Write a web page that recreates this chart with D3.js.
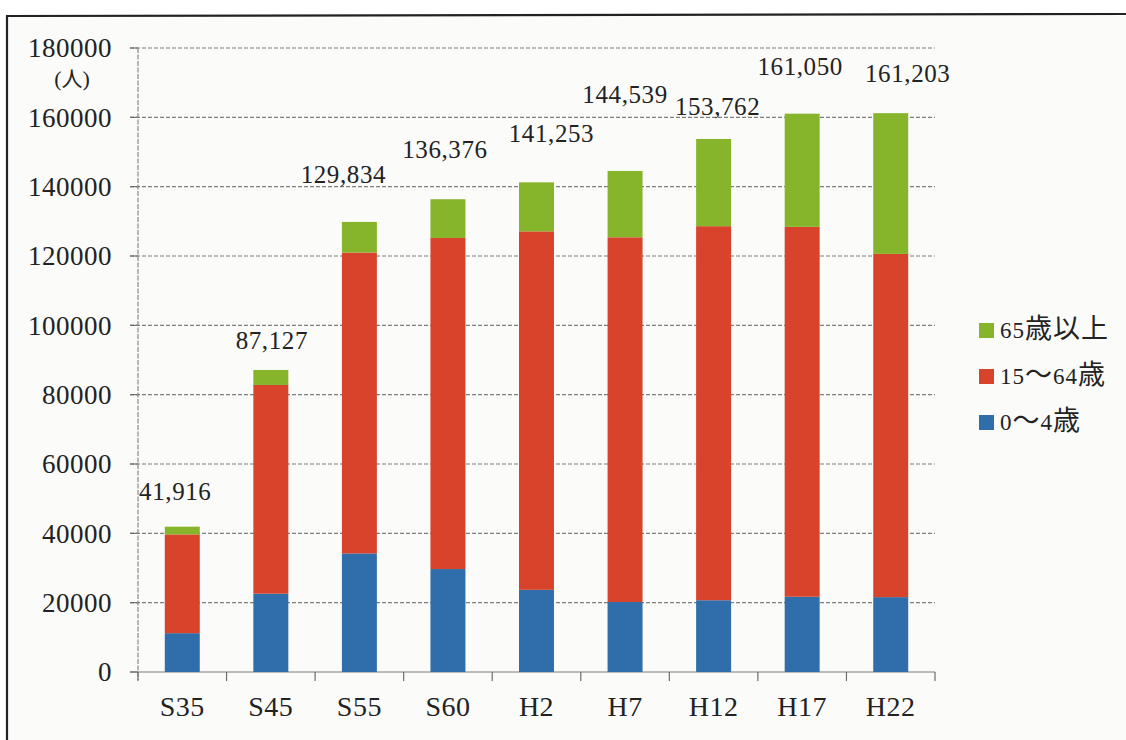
<!DOCTYPE html>
<html>
<head>
<meta charset="utf-8">
<script src="https://cdn.jsdelivr.net/npm/d3@7"></script>
<style>
  html, body { margin: 0; padding: 0; background: #ffffff; }
  svg { display: block; }
  svg text { font-family: "Liberation Serif", "DejaVu Serif", "Noto Sans CJK JP", serif; }
</style>
</head>
<body>
<svg id="chart" width="1126" height="740"></svg>
<script>
// ---- data ----
const categories = ["S35", "S45", "S55", "S60", "H2", "H7", "H12", "H17", "H22"];
const age0to4   = [11200, 22600, 34200, 29700, 23700, 20200, 20700, 21700, 21600];
const age15to64 = [28500, 60200, 86800, 95500, 103400, 105200, 107900, 106700, 99000];
const age65plus = [2216, 4327, 8834, 11176, 14153, 19139, 25162, 32650, 40603];
const totals    = [41916, 87127, 129834, 136376, 141253, 144539, 153762, 161050, 161203];
const seriesNames = ["0〜4歳", "15〜64歳", "65歳以上"];
const yTicks = [0, 20000, 40000, 60000, 80000, 100000, 120000, 140000, 160000, 180000];
const yUnit = ["(", "人", ")"];

// ---- layout (not data) ----
const colors = ["#2f6eaa", "#d8432c", "#86b52b"];
const labelDx = [-7, 1, -16, -3, 15, 0, 4, -2, 17];
const labelDy = [-35, -29, -47, -50, -49, -76, -32, -47, -40];

const svg = d3.select("#chart");

// background paper & border
svg.append("rect").attr("x", 0).attr("y", 0).attr("width", 1126).attr("height", 740).attr("fill", "#ffffff");
svg.append("rect").attr("x", 7).attr("y", 16).attr("width", 1130).attr("height", 740).attr("fill", "#fbfbfa");
svg.append("path").attr("d", "M7,742 L7,16 L1128,14").attr("fill", "none")
  .attr("stroke", "#222").attr("stroke-width", 2.2);

const x = d3.scaleBand().domain(categories).range([138, 935]).paddingInner(0.605).paddingOuter(0.3025);
const y = d3.scaleLinear().domain([0, 180000]).range([672, 48]);

// gridlines
svg.append("g").selectAll("line").data(yTicks).join("line")
  .attr("x1", 130).attr("x2", 935)
  .attr("y1", d => y(d)).attr("y2", d => y(d))
  .attr("stroke", "#7d7d7d").attr("stroke-width", 1.1)
  .attr("stroke-dasharray", d => d === 0 ? null : "4,2");
svg.append("g").selectAll("line").data(yTicks).join("line")
  .attr("x1", 130).attr("x2", 138)
  .attr("y1", d => y(d)).attr("y2", d => y(d))
  .attr("stroke", "#6d6d6d").attr("stroke-width", 1.2);

// y axis line
svg.append("line").attr("x1", 138).attr("x2", 138).attr("y1", y(180000)).attr("y2", 680)
  .attr("stroke", "#8a8a8a").attr("stroke-width", 1.2).attr("stroke-dasharray", "5,1.5");

// y labels
svg.append("g").selectAll("text").data(yTicks).join("text")
  .attr("x", 112).attr("y", d => y(d)).attr("dy", "0.34em")
  .attr("text-anchor", "end")
  .attr("font-size", 27).attr("letter-spacing", 0.5)
  .attr("fill", "#222")
  .text(d => d3.format("d")(d));

// unit label
const unit = svg.append("text").attr("x", 72).attr("y", 86).attr("text-anchor", "middle").attr("fill", "#222");
unit.selectAll("tspan").data(yUnit).join("tspan")
  .attr("font-size", (d, i) => i === 1 ? 21 : 22).text(d => d);

// x axis ticks at band boundaries
const step = x.step();
const boundaries = d3.range(categories.length + 1).map(i => 138 + i * step);
svg.append("g").selectAll("line").data(boundaries).join("line")
  .attr("x1", d => d).attr("x2", d => d)
  .attr("y1", y(0)).attr("y2", y(0) + 9)
  .attr("stroke", "#6d6d6d").attr("stroke-width", 1.2);

// x labels
svg.append("g").selectAll("text").data(categories).join("text")
  .attr("x", d => x(d) + x.bandwidth() / 2).attr("y", 716)
  .attr("text-anchor", "middle")
  .attr("font-size", 28).attr("letter-spacing", 0.5)
  .attr("fill", "#222")
  .text(d => d);

// stacked bars
const rows = categories.map((c, i) => ({ cat: c, a: age0to4[i], b: age15to64[i], c: age65plus[i] }));
const stack = d3.stack().keys(["a", "b", "c"])(rows);
svg.append("g").selectAll("g").data(stack).join("g")
  .attr("fill", (d, i) => colors[i])
  .selectAll("rect").data(d => d).join("rect")
  .attr("x", d => x(d.data.cat))
  .attr("width", x.bandwidth())
  .attr("y", d => y(d[1]))
  .attr("height", d => y(d[0]) - y(d[1]));

// total labels
svg.append("g").selectAll("text").data(totals).join("text")
  .attr("x", (d, i) => x(categories[i]) + x.bandwidth() / 2 + labelDx[i])
  .attr("y", (d, i) => y(d) + labelDy[i])
  .attr("dy", "0.34em")
  .attr("text-anchor", "middle")
  .attr("font-size", 25).attr("letter-spacing", 0.6)
  .attr("fill", "#222")
  .text(d => d3.format(",")(d));

// legend (top to bottom: 65+, 15-64, 0-4)
const legendOrder = [2, 1, 0];
const lg = svg.append("g").selectAll("g").data(legendOrder).join("g")
  .attr("transform", (d, i) => `translate(979, ${338 + i * 46})`);
lg.append("rect").attr("x", 0).attr("y", -15).attr("width", 15).attr("height", 15)
  .attr("fill", d => colors[d]);
lg.each(function (d) {
  const t = d3.select(this).append("text").attr("x", 21).attr("y", 0)
    .attr("fill", "#222").attr("letter-spacing", 1);
  const parts = seriesNames[d].match(/[\u3000-\u9fff]+|[^\u3000-\u9fff]+/g);
  parts.forEach(p => {
    const cjk = /[\u3000-\u9fff]/.test(p);
    t.append("tspan").attr("font-size", cjk ? 27 : 23).text(p);
  });
});
</script>
</body>
</html>
